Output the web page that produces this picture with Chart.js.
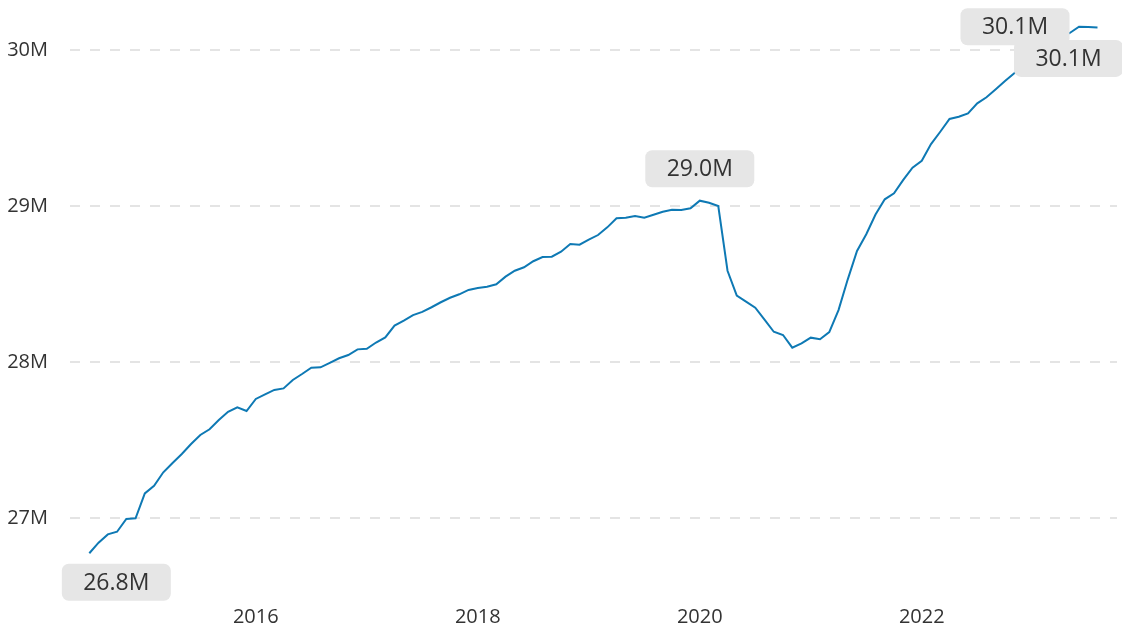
<!DOCTYPE html>
<html>
<head>
<meta charset="utf-8">
<script src="https://cdn.jsdelivr.net/npm/chart.js@4.4.1/dist/chart.umd.min.js"></script>
<style>
  html, body { margin: 0; padding: 0; background: #fff; }
  #wrap { width: 1122px; height: 629px; position: relative; }
</style>
</head>
<body>
<div id="wrap"><canvas id="lineChart"></canvas></div>
<script>
// Données (millions), mensuelles à partir de juillet 2014
const startYear = 2014;
const startMonth = 7;
const values = [
  26.774, 26.842, 26.895, 26.912, 26.994, 26.998,
  27.158, 27.207, 27.293, 27.353, 27.410, 27.474, 27.532, 27.569, 27.628, 27.681, 27.710, 27.686,
  27.763, 27.793, 27.821, 27.831, 27.885, 27.923, 27.963, 27.966, 27.995, 28.024, 28.045, 28.081,
  28.085, 28.125, 28.158, 28.233, 28.265, 28.301, 28.321, 28.351, 28.383, 28.412, 28.434, 28.462,
  28.474, 28.483, 28.498, 28.547, 28.585, 28.607, 28.646, 28.673, 28.675, 28.707, 28.756, 28.752,
  28.784, 28.814, 28.863, 28.921, 28.925, 28.936, 28.925, 28.944, 28.963, 28.976, 28.974, 28.985,
  29.034, 29.021, 29.000, 28.585, 28.425, 28.387, 28.348, 28.272, 28.194, 28.173, 28.092, 28.120,
  28.156, 28.146, 28.192, 28.333, 28.530, 28.712, 28.819, 28.945, 29.043, 29.081, 29.167, 29.246,
  29.290, 29.397, 29.476, 29.558, 29.572, 29.594, 29.658, 29.697, 29.748, 29.801, 29.851, 29.897,
  29.949, 29.994, 30.038, 30.077, 30.109, 30.149, 30.147, 30.145
];
const xTicks = [2016, 2018, 2020, 2022];
const yTicks = [27, 28, 29, 30];
// points annotés : premier, pic 2020, maximum, dernier
const labelIndexes = [0, 66, 107, 109];

// Catégories (mois) en années décimales
const months = values.map((v, i) => startYear + (startMonth - 1 + i) / 12);
const points = values.map((v, i) => ({ x: months[i], y: v }));

const FONT = "'Open Sans', sans-serif";

// Étiquettes grises des points
const labelPlugin = {
  id: "pointLabels",
  afterDatasetsDraw: (chart) => {
    const { ctx } = chart;
    const meta = chart.getDatasetMeta(0);
    // décalages des boîtes par rapport au point
    const offsets = [[27, 29], [0, -32], [-64, 0], [-29, 31]];
    const w = 109, h = 37;
    ctx.save();
    ctx.font = "23px " + FONT;
    ctx.textAlign = "center";
    ctx.textBaseline = "middle";
    labelIndexes.forEach((idx, k) => {
      const pt = meta.data[idx];
      const cx = pt.x + offsets[k][0];
      const cy = pt.y + offsets[k][1];
      ctx.fillStyle = "#e6e6e6";
      ctx.beginPath();
      ctx.roundRect(cx - w / 2, cy - h / 2, w, h, 7);
      ctx.fill();
      ctx.fillStyle = "#333333";
      ctx.fillText(values[idx].toFixed(1) + "M", cx, cy + 1);
    });
    ctx.restore();
  },
};

const ctx = document.getElementById("lineChart").getContext("2d");
const lineChart = new Chart(ctx, {
  type: "line",
  data: {
    datasets: [
      {
        data: points,
        borderColor: "#0e79b4",
        borderWidth: 2,
        pointRadius: 0,
        tension: 0,
        fill: false,
      },
    ],
  },
  options: {
    responsive: true,
    maintainAspectRatio: false,
    animation: false,
    layout: { padding: { left: 0, right: 5, top: 0, bottom: 0 } },
    plugins: {
      legend: { display: false },
      tooltip: { enabled: false },
    },
    scales: {
      x: {
        type: "linear",
        min: 2014.326,
        max: 2023.759,
        afterBuildTicks: (scale) => {
          scale.ticks = xTicks.map((v) => ({ value: v }));
        },
        afterFit: (scale) => {
          scale.height = 29;
          scale.paddingLeft = 0;
          scale.paddingRight = 0;
        },
        grid: { display: false, drawTicks: false },
        border: { display: false },
        ticks: {
          padding: 5,
          color: "#333333",
          font: { family: FONT, size: 20 },
          callback: (v) => String(v),
        },
      },
      y: {
        min: 26.4744,
        max: 30.3205,
        afterBuildTicks: (scale) => {
          scale.ticks = yTicks.map((v) => ({ value: v }));
        },
        afterFit: (scale) => {
          scale.width = 70;
          scale.paddingTop = 0;
          scale.paddingBottom = 0;
        },
        grid: {
          color: "#e4e4e4",
          lineWidth: 2,
          drawTicks: false,
        },
        border: { display: false, dash: [10, 10] },
        ticks: {
          padding: 22,
          color: "#333333",
          font: { family: FONT, size: 20 },
          callback: (v) => v + "M",
        },
      },
    },
  },
  plugins: [labelPlugin],
});
</script>
</body>
</html>
